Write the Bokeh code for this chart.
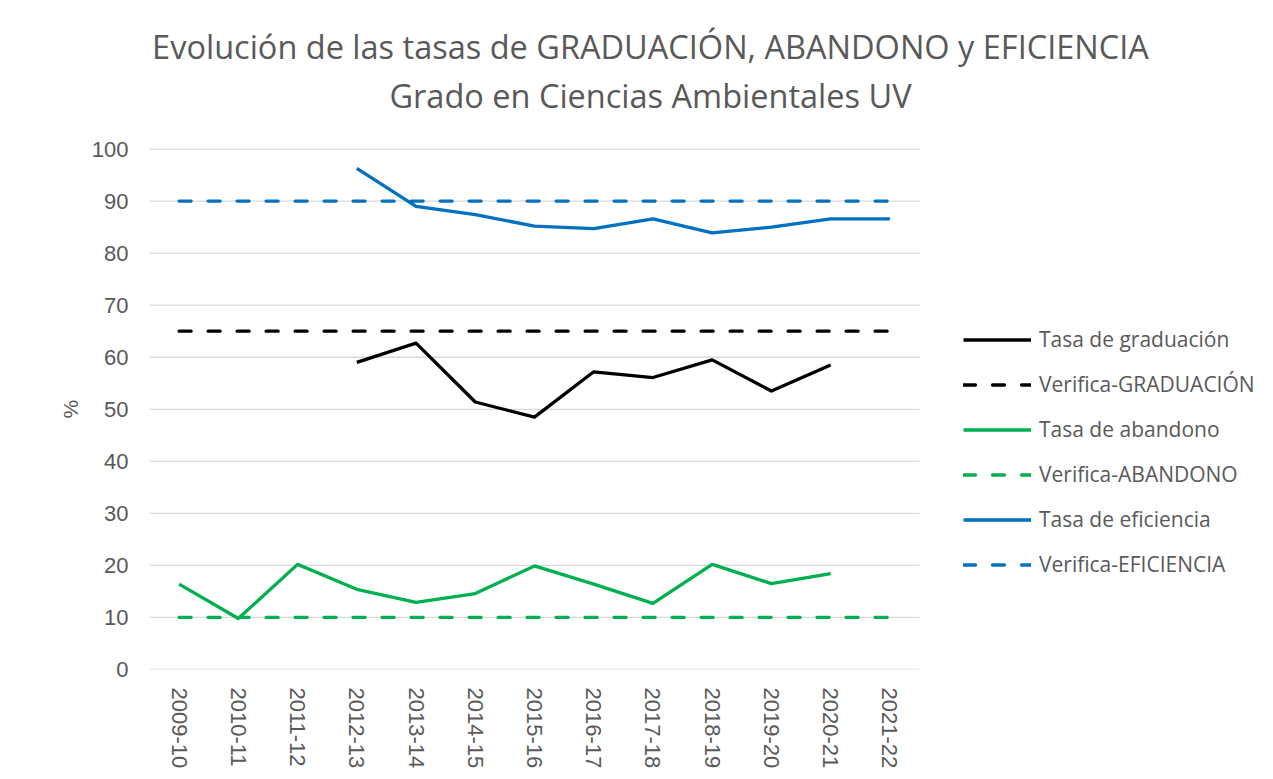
import math
from bokeh.plotting import figure
from bokeh.models import Label, Legend, LegendItem, FixedTicker, Range1d, Title
from bokeh.embed import file_html
from bokeh.resources import INLINE

years = ["2009-10", "2010-11", "2011-12", "2012-13", "2013-14", "2014-15", "2015-16",
         "2016-17", "2017-18", "2018-19", "2019-20", "2020-21", "2021-22"]

graduacion_years = ["2012-13", "2013-14", "2014-15", "2015-16", "2016-17", "2017-18",
                    "2018-19", "2019-20", "2020-21"]
graduacion = [59.0, 62.7, 51.4, 48.5, 57.2, 56.1, 59.5, 53.5, 58.5]

abandono_years = ["2009-10", "2010-11", "2011-12", "2012-13", "2013-14", "2014-15", "2015-16",
                  "2016-17", "2017-18", "2018-19", "2019-20", "2020-21"]
abandono = [16.4, 9.8, 20.2, 15.4, 12.9, 14.6, 19.9, 16.4, 12.7, 20.2, 16.5, 18.4]

eficiencia_years = ["2012-13", "2013-14", "2014-15", "2015-16", "2016-17", "2017-18",
                    "2018-19", "2019-20", "2020-21", "2021-22"]
eficiencia = [96.3, 89.0, 87.4, 85.2, 84.7, 86.6, 83.9, 85.0, 86.6, 86.6]

verifica_graduacion = 65
verifica_abandono = 10
verifica_eficiencia = 90

y_ticks = [0, 10, 20, 30, 40, 50, 60, 70, 80, 90, 100]

title_line1 = "Evolución de las tasas de GRADUACIÓN, ABANDONO y EFICIENCIA"
title_line2 = "Grado en Ciencias Ambientales UV"
y_label = "%"

BLACK = "#000000"
GREEN = "#00B050"
BLUE = "#0070C0"
TEXT = "#595959"
GRID = "#D9D9D9"

# layout (pixels)
W, H = 1265, 771
LEFT, BOTTOM_Y = 149, 671          # plot area left edge and the y=0 line
AREA_W, AREA_H = 770, 522          # width of the category area, height of 0..100
n = len(years)
x_end = -0.5 + n * (W - LEFT) / AREA_W
y_end = y_ticks[-1] * BOTTOM_Y / AREA_H

idx = {y: i for i, y in enumerate(years)}

p = figure(width=W, height=H, x_range=Range1d(-0.5, x_end), y_range=Range1d(0, y_end),
           output_backend="svg", toolbar_location=None, title=None,
           min_border_left=LEFT, min_border_right=0, min_border_top=0,
           min_border_bottom=H - BOTTOM_Y)
p.outline_line_color = None
p.xgrid.grid_line_color = None
p.ygrid.grid_line_color = None

# horizontal gridlines over the category area only
p.segment(x0=[-0.5] * len(y_ticks), x1=[n - 0.5] * len(y_ticks), y0=y_ticks, y1=y_ticks,
          line_color=GRID, line_width=1.3)

p.yaxis.ticker = FixedTicker(ticks=y_ticks)
p.xaxis.ticker = FixedTicker(ticks=list(range(n)))
p.xaxis.major_label_overrides = {i: y for i, y in enumerate(years)}
for ax in (p.xaxis, p.yaxis):
    ax.axis_line_color = None
    ax.major_tick_line_color = None
    ax.minor_tick_line_color = None
    ax.major_label_text_color = TEXT
    ax.major_label_text_font = "Liberation Sans"
p.yaxis.major_label_text_font_size = "22px"
p.yaxis.major_label_standoff = 15
p.xaxis.major_label_text_font_size = "22px"
p.xaxis.major_label_orientation = -math.pi / 2
p.xaxis.major_label_standoff = 12

# y-axis title, placed beside the 0..100 part of the axis
p.add_layout(Title(text=y_label, align="left", offset=(BOTTOM_Y - 410) - 10, standoff=14,
                   text_font="Liberation Sans", text_font_size="21px",
                   text_font_style="normal", text_color=TEXT), "left")

dash = "12 17"
lw = 3.3
r_g = p.line([idx[y] for y in graduacion_years], graduacion, line_color=BLACK,
             line_width=lw, line_join="round")
r_vg = p.line(list(range(n)), [verifica_graduacion] * n, line_color=BLACK, line_width=lw,
              line_dash=dash, line_cap="round")
r_a = p.line([idx[y] for y in abandono_years], abandono, line_color=GREEN,
             line_width=lw, line_join="round")
r_va = p.line(list(range(n)), [verifica_abandono] * n, line_color=GREEN, line_width=lw,
              line_dash=dash, line_cap="round")
r_e = p.line([idx[y] for y in eficiencia_years], eficiencia, line_color=BLUE,
             line_width=lw, line_join="round")
r_ve = p.line(list(range(n)), [verifica_eficiencia] * n, line_color=BLUE, line_width=lw,
              line_dash=dash, line_cap="round")

legend = Legend(items=[
    LegendItem(label="Tasa de graduación", renderers=[r_g]),
    LegendItem(label="Verifica-GRADUACIÓN", renderers=[r_vg]),
    LegendItem(label="Tasa de abandono", renderers=[r_a]),
    LegendItem(label="Verifica-ABANDONO", renderers=[r_va]),
    LegendItem(label="Tasa de eficiencia", renderers=[r_e]),
    LegendItem(label="Verifica-EFICIENCIA", renderers=[r_ve]),
], location=(814, 91))
legend.border_line_color = None
legend.background_fill_alpha = 0
legend.padding = 0
legend.margin = 0
legend.glyph_width = 68
legend.glyph_height = 27
legend.label_height = 27
legend.spacing = 17
legend.label_standoff = 8
legend.label_text_font = "Open Sans"
legend.label_text_font_size = "21px"
legend.label_text_color = TEXT
p.add_layout(legend, "center")

p.add_layout(Label(x=501, y=BOTTOM_Y - 48, x_units="screen", y_units="screen",
                   text=title_line1, text_align="center", text_baseline="middle",
                   text_font="Open Sans", text_font_size="32.5px", text_color=TEXT))
p.add_layout(Label(x=501, y=BOTTOM_Y - 97, x_units="screen", y_units="screen",
                   text=title_line2, text_align="center", text_baseline="middle",
                   text_font="Open Sans", text_font_size="32.5px", text_color=TEXT))

open("out.html", "w").write(file_html(p, INLINE))
